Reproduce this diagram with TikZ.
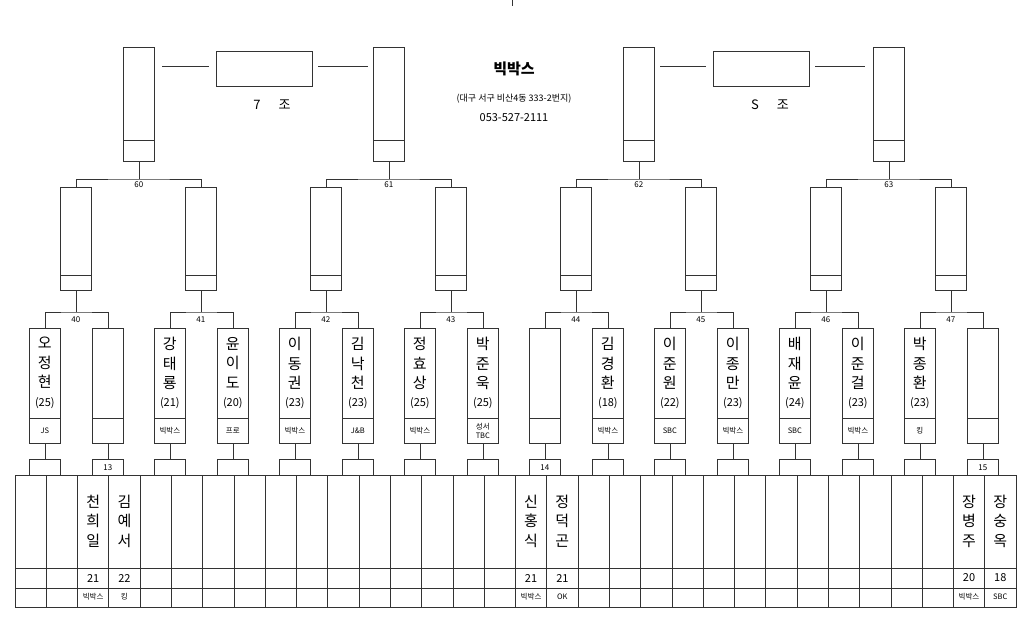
\documentclass[tikz,border=0pt]{standalone}
\usepackage{fontspec}
\newfontfamily\kr{Noto Sans CJK KR}
\begin{document}
\begin{tikzpicture}[x=1pt,y=-1pt,
  bx/.style={draw=black!80,line width=0.7pt,minimum width=31pt,inner sep=0pt,anchor=north west},
  ln/.style={draw=black!80,line width=0.7pt},
  nm/.style={font=\kr\fontsize{15}{19.5}\selectfont,align=center,inner sep=0pt},
  ag/.style={font=\kr\fontsize{11}{12}\selectfont,inner sep=0pt},
  cl/.style={font=\kr\fontsize{7.5}{8.5}\selectfont,align=center,inner sep=0pt},
  lb/.style={font=\kr\fontsize{8}{9}\selectfont,inner sep=0pt}]
\useasboundingbox (0,0) rectangle (1024,621);
% top boxes
\foreach \k in {0,...,3}{
  \node[bx,minimum height=114pt] (t\k) at (123+250*\k,47) {};
  \draw[ln] (t\k.west|-0,140) -- (t\k.east|-0,140);
}
% level 2
\foreach \j in {0,...,7}{
  \node[bx,minimum height=103pt] (m\j) at (60+125*\j,187) {};
  \draw[ln] (m\j.west|-0,275) -- (m\j.east|-0,275);
}
\foreach \k/\a/\b/\l in {0/0/1/60,1/2/3/61,2/4/5/62,3/6/7/63}{
  \draw[ln] (t\k.south) -- (t\k.south|-0,179);
  \draw[ln] (m\a.north) |- (t\k.south|-0,179) -| (m\b.north);
  \node[lb] (l\l) at (t\k.south|-0,185) {\l};
}
% level 3
\foreach \i in {0,...,15}{
  \pgfmathsetmacro\xx{29+63*mod(\i,2)+125*int(\i/2)}
  \node[bx,minimum height=115pt] (b\i) at (\xx,328) {};
  \draw[ln] (b\i.west|-0,418) -- (b\i.east|-0,418);
  \node[bx,minimum height=16pt] (s\i) at (\xx,459) {};
  \draw[ln] (b\i.south) -- (s\i.north);
}
\foreach \j/\a/\b/\l in {0/0/1/40,1/2/3/41,2/4/5/42,3/6/7/43,4/8/9/44,5/10/11/45,6/12/13/46,7/14/15/47}{
  \draw[ln] (m\j.south) -- (m\j.south|-0,312);
  \draw[ln] (b\a.north) |- (m\j.south|-0,312) -| (b\b.north);
  \node[lb] (q\l) at (m\j.south|-0,320) {\l};
}
\foreach \i/\n in {1/13,8/14,15/15}{\node[lb] (sn\i) at (s\i.center) {\n};}
% names in level 3
\foreach \i/\nn/\a/\c in {0/{오\\정\\현}/25/JS,2/{강\\태\\룡}/21/빅박스,3/{윤\\이\\도}/20/프로,
  4/{이\\동\\권}/23/빅박스,5/{김\\낙\\천}/23/J\&B,6/{정\\효\\상}/25/빅박스,7/{박\\준\\욱}/25/{성서\\TBC},
  9/{김\\경\\환}/18/빅박스,10/{이\\준\\원}/22/SBC,11/{이\\종\\만}/23/빅박스,12/{배\\재\\윤}/24/SBC,
  13/{이\\준\\걸}/23/빅박스,14/{박\\종\\환}/23/킹}{
  \node[nm,anchor=north] (bn\i) at (b\i.north|-0,337) {\nn};
  \node[ag] (ba\i) at (b\i.north|-0,403) {(\a)};
  \node[cl] (bc\i) at (b\i.north|-0,431) {\c};
}
% table
\draw[ln] (15,475) rectangle (1016,607);
\draw[ln] (15,568) -- (1016,568);
\draw[ln] (15,588) -- (1016,588);
\foreach \c in {1,...,31}{\draw[ln] (15+31.28*\c,475) -- (15+31.28*\c,607);}
\foreach \c/\nn/\a/\cc in {2/{천\\희\\일}/21/빅박스,3/{김\\예\\서}/22/킹,16/{신\\홍\\식}/21/빅박스,
  17/{정\\덕\\곤}/21/OK,30/{장\\병\\주}/20/빅박스,31/{장\\숭\\옥}/18/SBC}{
  \node[nm] (tn\c) at (15+31.28*\c+15.6,521) {\nn};
  \node[ag] (ta\c) at (15+31.28*\c+15.6,578) {\a};
  \node[cl] (tc\c) at (15+31.28*\c+15.6,597) {\cc};
}
% group connectors
\node[draw=black!80,line width=0.7pt,minimum width=96pt,minimum height=35pt,inner sep=0pt] (g1) at (264,68.5) {};
\node[draw=black!80,line width=0.7pt,minimum width=96pt,minimum height=35pt,inner sep=0pt] (g2) at (761,68.5) {};
\draw[ln] (162,66) -- (209,66);
\draw[ln] (318,66) -- (368,66);
\draw[ln] (660,66) -- (706,66);
\draw[ln] (815,66) -- (865,66);
\node[font=\kr\fontsize{13}{14}\selectfont] (z1) at (272,105) {7\hspace{18pt}조};
\node[font=\kr\fontsize{13}{14}\selectfont] (z2) at (770,105) {S\hspace{18pt}조};
\node[font=\kr\bfseries\fontsize{15}{16}\selectfont] (title) at (514,69) {빅박스};
\node[font=\kr\fontsize{9}{10}\selectfont] (addr) at (514,99) {(대구 서구 비산4동 333-2번지)};
\node[font=\kr\fontsize{11}{12}\selectfont] (tel) at (514,118) {053-527-2111};
\draw[ln] (512,0) -- (512,6);
\end{tikzpicture}
\end{document}
